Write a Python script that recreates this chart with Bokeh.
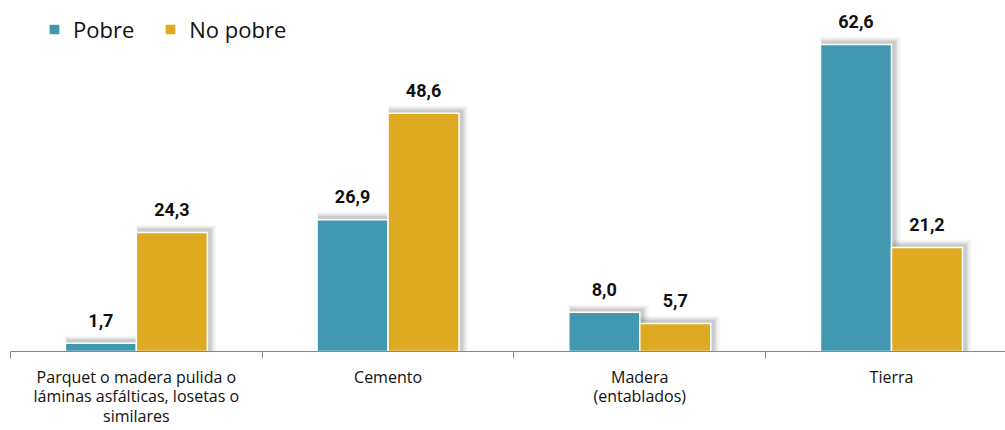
from bokeh.plotting import figure
from bokeh.models import ColumnDataSource, Range1d, FixedTicker, Legend, LegendItem
from bokeh.core.properties import value
from bokeh.embed import file_html
from bokeh.resources import INLINE

categories = ["Parquet o madera pulida o\nláminas asfálticas, losetas o\nsimilares",
              "Cemento", "Madera\n(entablados)", "Tierra"]
pobre = [1.7, 26.9, 8.0, 62.6]
no_pobre = [24.3, 48.6, 5.7, 21.2]
series_names = ["Pobre", "No pobre"]
colors = ["#4298B0", "#DEAA22"]

BAR_W = 0.282
centers = [i + 0.5 for i in range(len(categories))]

X_END = 3.953
Y_END = 71.6
FRAME_W = 995.0
FRAME_H = 353.0

p = figure(width=1005, height=430, output_backend="svg", toolbar_location=None,
           x_range=Range1d(0, X_END), y_range=Range1d(0, Y_END),
           min_border_left=10, min_border_right=0, min_border_top=0, min_border_bottom=0)
p.outline_line_color = None
p.xgrid.visible = False
p.ygrid.visible = False
p.yaxis.visible = False
p.background_fill_color = "white"

# px-to-data conversion for shadow effect
px_x = X_END / FRAME_W
px_y = Y_END / FRAME_H

def fmt(v):
    return f"{v:.1f}".replace(".", ",")

renderers = []
for k, (vals, col) in enumerate(zip([pobre, no_pobre], colors)):
    xs = [c + (k - 0.5) * BAR_W for c in centers]
    # soft drop shadow layers
    for s, a in [(7, 0.05), (5, 0.07), (3.5, 0.09), (2, 0.12)]:
        src_s = dict(left=[x - BAR_W / 2 + 2 * px_x - s * px_x * 0.3 for x in xs],
                     right=[x + BAR_W / 2 + 2 * px_x + s * px_x for x in xs],
                     top=[v + 2 * px_y + s * px_y * 0.8 for v in vals],
                     bottom=[0] * len(vals))
        p.quad(source=ColumnDataSource(src_s), left="left", right="right", top="top",
               bottom="bottom", fill_color="#555555", fill_alpha=a, line_color=None)
    src = ColumnDataSource(dict(x=xs, top=vals, lab=[fmt(v) for v in vals]))
    r = p.vbar(x="x", top="top", width=BAR_W, source=src, fill_color=col,
               line_color="white", line_width=1.5)
    renderers.append(r)
    p.text(x="x", y="top", text="lab", source=src, text_align="center",
           text_baseline="alphabetic", y_offset=-23,
           text_font=value("Roboto"), text_font_style="bold",
           text_font_size="18px", text_color="#111111")

ax = p.xaxis[0]
ax.ticker = FixedTicker(ticks=centers, minor_ticks=[0, 1, 2, 3, 4])
ax.major_label_overrides = {c: lab for c, lab in zip(centers, categories)}
ax.major_tick_line_color = None
ax.major_tick_out = 0
ax.major_tick_in = 0
ax.minor_tick_line_color = "#888888"
ax.minor_tick_out = 7
ax.minor_tick_in = 0
ax.axis_line_color = "#888888"
ax.axis_line_width = 1
ax.major_label_standoff = 7
ax.major_label_text_font = "Open Sans"
ax.major_label_text_font_size = "16px"
ax.major_label_text_line_height = 0.9
ax.major_label_text_color = "#111111"

legend = Legend(items=[LegendItem(label=n, renderers=[r]) for n, r in zip(series_names, renderers)],
                orientation="horizontal", location=(37, 307))
legend.label_text_font = "Open Sans"
legend.label_text_font_size = "22px"
legend.label_text_color = "#111111"
legend.glyph_width = 14
legend.glyph_height = 14
legend.label_standoff = 12
legend.spacing = 29
legend.padding = 5
legend.border_line_color = None
legend.background_fill_alpha = 0
p.add_layout(legend, "center")

open("out.html", "w").write(file_html(p, INLINE))
